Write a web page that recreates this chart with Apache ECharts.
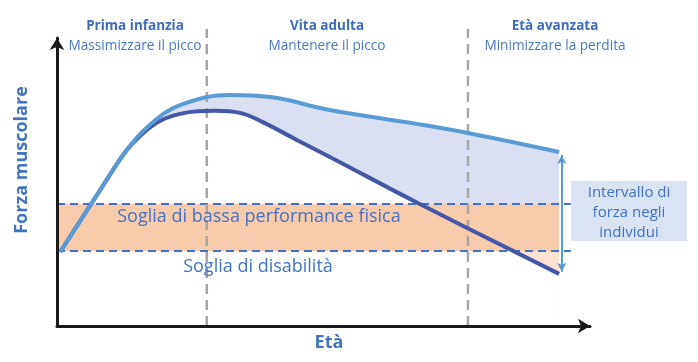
<!DOCTYPE html>
<html>
<head>
<meta charset="utf-8">
<script src="https://cdn.jsdelivr.net/npm/echarts@6/dist/echarts.min.js"></script>
<style>
html,body{margin:0;padding:0;background:#fff;}
#chart{width:698px;height:362px;}
</style>
</head>
<body>
<div id="chart"></div>
<script>
// ---- Data (arbitrary units: età 0-100, forza 0-100) ----
const etaAlta = [0.6, 8.1, 12.8, 17.4, 23.1, 32.5, 40.0, 51.2, 67.7, 77.1, 94.2];
const forzaAlta = [25.7, 47.2, 60.4, 69.8, 76.7, 80.2, 79.5, 75.0, 70.1, 67.0, 60.4];
const etaBassa = [0.6, 8.1, 12.8, 15.6, 19.3, 24.0, 29.6, 34.3, 38.6, 45.0, 51.2, 67.7, 94.2];
const forzaBassa = [25.7, 47.2, 60.4, 66.0, 71.2, 74.0, 74.7, 74.0, 70.8, 64.6, 58.7, 42.7, 18.1];
const sogliaPerformance = 42.4;
const sogliaDisabilita = 26.0;
const fineSoglie = 94.2;
const fineLineeSoglie = 96.4;
const confiniFasi = [28.1, 77.1];
const fasiTitoli = ['Prima infanzia', 'Vita adulta', 'Età avanzata'];
const fasiSottotitoli = ['Massimizzare il picco', 'Mantenere il picco', 'Minimizzare la perdita'];
const etichettaIntervallo = ['Intervallo di', 'forza negli', 'individui'];

const BLUE_TXT = '#4472c4';
const chart = echarts.init(document.getElementById('chart'), null, {renderer: 'canvas'});
const pairs = (xs, ys) => xs.map((x, i) => [x, ys[i]]);
const SM = 0.4;

const axisCommon = {
  type: 'value', min: 0, max: 100, z: 20,
  axisLine: {show: true, symbol: ['none', 'arrow'], symbolSize: [11, 12], lineStyle: {color: '#1a1a1a', width: 3}},
  axisTick: {show: false}, axisLabel: {show: false}, splitLine: {show: false}
};

const option = {
  animation: false,
  grid: {left: 57, right: 108, top: 38, bottom: 36, containLabel: false},
  xAxis: axisCommon,
  yAxis: axisCommon,
  series: [
    // area under upper curve (lavender above band, light peach below)
    {type: 'line', data: pairs(etaAlta, forzaAlta), smooth: SM, symbol: 'none', lineStyle: {opacity: 0}, z: 1, silent: true,
      areaStyle: {opacity: 1, color: new echarts.graphic.LinearGradient(0, 0, 0, 362, [
        {offset: 0, color: '#dae0f1'}, {offset: 0.692, color: '#dae0f1'},
        {offset: 0.695, color: '#fbe2d3'}, {offset: 1, color: '#fbe2d3'}], true)}},
    // white area under lower curve
    {type: 'line', data: pairs(etaBassa, forzaBassa), smooth: SM, symbol: 'none', lineStyle: {opacity: 0}, z: 2, silent: true,
      areaStyle: {opacity: 1, color: '#ffffff'}},
    // threshold band
    {type: 'line', data: [], z: 3, silent: true,
      markArea: {silent: true, z: 3, itemStyle: {color: '#f8cbad'},
        data: [[{coord: [0, sogliaPerformance]}, {coord: [fineSoglie, sogliaDisabilita]}]]}},
    // threshold dashed lines
    {type: 'line', data: [[0, sogliaPerformance], [fineLineeSoglie, sogliaPerformance]], symbol: 'none', z: 4, clip: false,
      lineStyle: {color: BLUE_TXT, width: 2, type: [8, 5]}},
    {type: 'line', data: [[0, sogliaDisabilita], [fineLineeSoglie, sogliaDisabilita]], symbol: 'none', z: 4, clip: false,
      lineStyle: {color: BLUE_TXT, width: 2, type: [8, 5]}},
    // phase boundaries
    ...confiniFasi.map(x => ({type: 'line', data: [[x, 0], [x, 103.1]], symbol: 'none', z: 4, clip: false,
      lineStyle: {color: '#a6a6a6', width: 2.5, type: [10, 6]}})),
    // lower curve
    {type: 'line', data: pairs(etaBassa, forzaBassa), smooth: SM, symbol: 'none', z: 6,
      lineStyle: {color: '#4558a8', width: 4}},
    // upper curve
    {type: 'line', data: pairs(etaAlta, forzaAlta), smooth: SM, symbol: 'none', z: 7,
      lineStyle: {color: '#5b9bd5', width: 4}},
    // range arrow
    {type: 'line', data: [], z: 8,
      markLine: {silent: true, z: 8, symbol: ['arrow', 'arrow'], symbolSize: [7, 9], label: {show: false},
        lineStyle: {color: '#5b9bd5', width: 2, type: 'solid'},
        data: [[{coord: [94.7, forzaAlta[forzaAlta.length - 1] - 1]}, {coord: [94.7, forzaBassa[forzaBassa.length - 1] + 0.7]}]]}}
  ],
  graphic: [
    ...[135, 327, 555].map((cx, i) => ({type: 'text', x: cx, y: 26, scaleX: 0.9, style: {text: fasiTitoli[i], fill: '#3f6bbf',
      font: 'bold 15px "Open Sans", sans-serif', align: 'center', verticalAlign: 'middle'}})),
    ...[135, 327, 555].map((cx, i) => ({type: 'text', x: cx, y: 46, scaleX: 0.91, style: {text: fasiSottotitoli[i], fill: '#4a78c8',
      font: '15px "Open Sans", sans-serif', align: 'center', verticalAlign: 'middle'}})),
    {type: 'text', x: 259, y: 217, z: 10, style: {text: 'Soglia di bassa performance fisica', fill: BLUE_TXT,
      font: '18px "Open Sans", sans-serif', align: 'center', verticalAlign: 'middle'}},
    {type: 'text', x: 258, y: 267, z: 10, style: {text: 'Soglia di disabilità', fill: BLUE_TXT,
      font: '18px "Open Sans", sans-serif', align: 'center', verticalAlign: 'middle'}},
    {type: 'text', x: 22, y: 160, rotation: Math.PI / 2, style: {text: 'Forza muscolare', fill: BLUE_TXT,
      font: 'bold 18px "Open Sans", sans-serif', align: 'center', verticalAlign: 'middle'}},
    {type: 'text', x: 329, y: 343, style: {text: 'Età', fill: BLUE_TXT,
      font: 'bold 18px "Open Sans", sans-serif', align: 'center', verticalAlign: 'middle'}},
    {type: 'rect', shape: {x: 571, y: 181, width: 116, height: 60}, style: {fill: '#dae3f3'}},
    ...etichettaIntervallo.map((t, i) => ({type: 'text', x: 629, y: 193 + i * 20, style: {text: t, fill: BLUE_TXT,
      font: '15px "Open Sans", sans-serif', align: 'center', verticalAlign: 'middle'}}))
  ]
};
chart.setOption(option);
</script>
</body>
</html>
